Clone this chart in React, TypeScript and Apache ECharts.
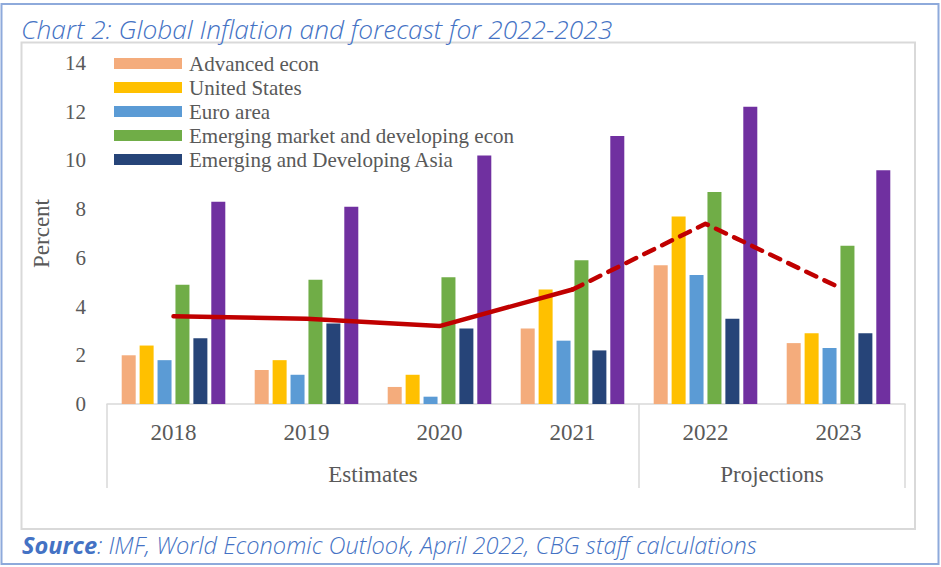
import React, { useEffect, useRef } from "react";
import * as echarts from "echarts";

const years = ["2018", "2019", "2020", "2021", "2022", "2023"];
const groupLabels = ["Estimates", "Projections"];
const yTicks = [0, 2, 4, 6, 8, 10, 12, 14];

const advancedEcon = [2.0, 1.4, 0.7, 3.1, 5.7, 2.5];
const unitedStates = [2.4, 1.8, 1.2, 4.7, 7.7, 2.9];
const euroArea = [1.8, 1.2, 0.3, 2.6, 5.3, 2.3];
const emergingMarket = [4.9, 5.1, 5.2, 5.9, 8.7, 6.5];
const emergingAsia = [2.7, 3.3, 3.1, 2.2, 3.5, 2.9];
const series6 = [8.3, 8.1, 10.2, 11.0, 12.2, 9.6];
const worldEstimates = [3.6, 3.5, 3.2, 4.7, null, null];
const worldProjections = [null, null, null, 4.7, 7.4, 4.8];

const barNames = [
  "Advanced econ",
  "United States",
  "Euro area",
  "Emerging market and developing econ",
  "Emerging and Developing Asia",
  "Series 6",
];
const barData = [advancedEcon, unitedStates, euroArea, emergingMarket, emergingAsia, series6];
const barColors = ["#F4AC7C", "#FFC000", "#5B9BD5", "#70AD47", "#264478", "#7030A0"];

const SERIF = "'Liberation Serif', 'Times New Roman', serif";
const SANS = "'Open Sans', 'DejaVu Sans', sans-serif";
const BLUE = "#4472C4";
const GREY_TEXT = "#595959";

export default function App() {
  const ref = useRef<HTMLDivElement>(null);

  useEffect(() => {
    if (!ref.current) return;
    const chart = echarts.init(ref.current, null, { renderer: "svg" });
    const bars = barNames.map((name, i) => ({
      name,
      type: "bar",
      data: barData[i],
      barWidth: 14,
      barGap: "28%",
      itemStyle: { color: barColors[i] },
      xAxisIndex: 0,
      yAxisIndex: 0,
    }));
    const lineCommon = {
      type: "line",
      symbol: "none",
      xAxisIndex: 0,
      yAxisIndex: 0,
      z: 5,
    };
    chart.setOption({
      animation: false,
      backgroundColor: "#ffffff",
      grid: { left: 107, right: 36, top: 63, bottom: 163, containLabel: false },
      legend: {
        data: barNames.slice(0, 5),
        orient: "vertical",
        left: 109,
        top: 48,
        itemWidth: 68,
        itemHeight: 11,
        itemGap: 3,
        icon: "rect",
        textStyle: {
          fontFamily: SERIF,
          fontSize: 21,
          lineHeight: 21,
          color: GREY_TEXT,
          padding: [0, 0, 0, 2],
        },
      },
      xAxis: [
        {
          type: "category",
          data: years,
          position: "bottom",
          axisLine: { show: true, lineStyle: { color: "#D9D9D9", width: 1.5 } },
          axisTick: { show: false },
          axisLabel: {
            fontFamily: SERIF,
            fontSize: 23,
            color: GREY_TEXT,
            margin: 17,
          },
        },
        {
          type: "value",
          min: 0,
          max: 6,
          interval: 1,
          position: "bottom",
          axisLine: { show: false },
          splitLine: { show: false },
          axisTick: {
            show: true,
            customValues: [0, 4, 6],
            length: 84,
            lineStyle: { color: "#D9D9D9", width: 1.5 },
          },
          axisLabel: {
            customValues: [2, 5],
            fontFamily: SERIF,
            fontSize: 23,
            color: GREY_TEXT,
            margin: 59,
            formatter: (v: number) => (v === 2 ? groupLabels[0] : v === 5 ? groupLabels[1] : ""),
          },
        },
      ],
      yAxis: {
        type: "value",
        min: 0,
        max: 14,
        interval: 2,
        axisLine: { show: false },
        axisTick: { show: false },
        splitLine: { show: false },
        axisLabel: {
          fontFamily: SERIF,
          fontSize: 21,
          color: GREY_TEXT,
          margin: 21,
          formatter: (v: number) => (yTicks.includes(v) ? String(v) : ""),
        },
        name: "Percent",
        nameLocation: "middle",
        nameRotate: 90,
        nameGap: 54,
        nameTextStyle: { fontFamily: SERIF, fontSize: 23, color: GREY_TEXT },
      },
      series: [
        ...bars,
        {
          ...lineCommon,
          name: "World estimates",
          data: worldEstimates,
          lineStyle: { color: "#C00000", width: 4.5, cap: "round", join: "round" },
        },
        {
          ...lineCommon,
          name: "World projections",
          data: worldProjections,
          lineStyle: {
            color: "#C00000",
            width: 4.5,
            type: [11, 9],
            cap: "round",
            join: "round",
          },
        },
      ],
      graphic: [
        {
          type: "rect",
          shape: { x: 1.5, y: 4, width: 937, height: 560 },
          style: { fill: "none", stroke: "#8EAADB", lineWidth: 2 },
          silent: true,
          z: -10,
        },
        {
          type: "rect",
          shape: { x: 21.5, y: 42.5, width: 893.5, height: 486.5 },
          style: { fill: "none", stroke: "#D9D9D9", lineWidth: 2 },
          silent: true,
          z: -10,
        },
        {
          type: "text",
          x: 21,
          y: 29,
          style: {
            text: "Chart 2: Global Inflation and forecast for 2022-2023",
            fontFamily: SANS,
            fontStyle: "italic",
            fontWeight: 300,
            fontSize: 26.3,
            fill: BLUE,
            verticalAlign: "middle",
          },
        },
        {
          type: "text",
          x: 22,
          y: 545,
          style: {
            text: "{b|Source}{n|: IMF, World Economic Outlook, April 2022, CBG staff calculations}",
            verticalAlign: "middle",
            rich: {
              b: {
                fontFamily: SANS,
                fontStyle: "italic",
                fontWeight: "bold",
                fontSize: 23.6,
                fill: BLUE,
              },
              n: {
                fontFamily: SANS,
                fontStyle: "italic",
                fontWeight: 300,
                fontSize: 23.6,
                fill: BLUE,
              },
            },
          },
        },
      ],
    });
    return () => chart.dispose();
  }, []);

  return (
    <div
      ref={ref}
      style={{ position: "absolute", left: 0, top: 0, width: 941, height: 567 }}
    />
  );
}
